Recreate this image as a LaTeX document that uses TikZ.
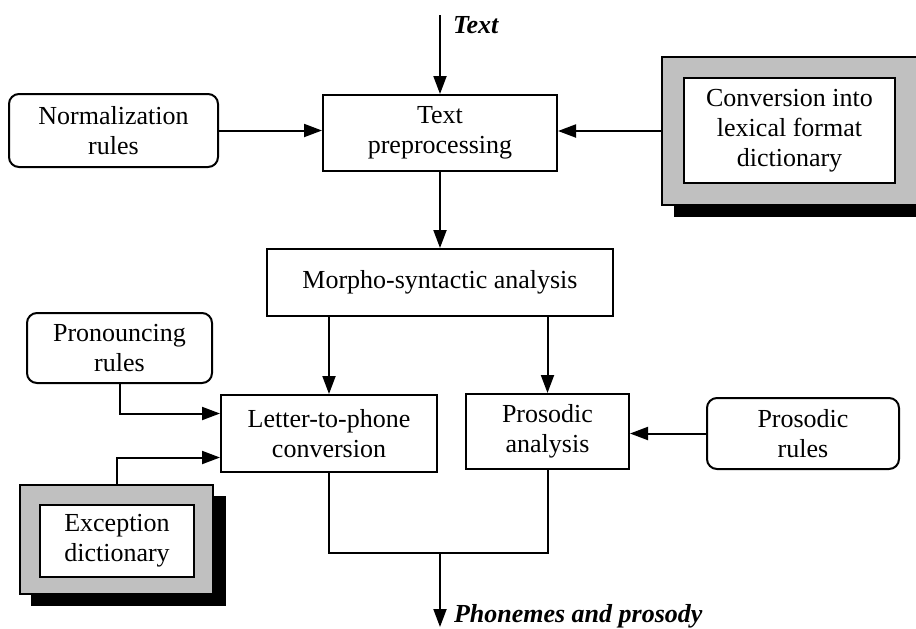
\documentclass[tikz,border=0pt]{standalone}
\usepackage{fontspec}
\setmainfont{Liberation Serif}
\usetikzlibrary{arrows.meta}
\definecolor{dictgray}{RGB}{192,192,192}
\begin{document}
\begin{tikzpicture}[x=0.5pt,y=-0.5pt,line width=1pt,>={Triangle[length=9pt,width=6.5pt]}]
  \tikzstyle{procbox}=[rectangle,draw=black,fill=white,align=center,inner sep=0pt,font=\fontsize{13}{15}\selectfont]
  \tikzstyle{rulebox}=[procbox,rounded corners=5pt]
  \tikzstyle{dictframe}=[rectangle,draw=black,fill=dictgray,inner sep=0pt]
  \tikzstyle{dictshadow}=[rectangle,fill=black,inner sep=0pt]
  \tikzstyle{flowlabel}=[anchor=west,inner sep=0pt,font=\fontsize{13}{15}\selectfont\bfseries\itshape]
  \useasboundingbox (0,0) rectangle (916,628);

  \node[procbox, minimum width=117pt, minimum height=38pt] (tp) at (440,133) {Text\\preprocessing};
  \node[rulebox, minimum width=104.5pt, minimum height=36.5pt] (norm) at (113.5,130.5) {Normalization\\rules};

  % lexical dictionary
  \node[dictshadow, minimum width=127.5pt, minimum height=74pt] (convshadow) at (801.5,143) {};
  \node[dictframe, minimum width=127.5pt, minimum height=74pt] (convgray) at (789.5,131) {};
  \node[procbox, minimum width=105.5pt, minimum height=52.5pt] (conv) at (789.5,130.5) {Conversion into\\lexical format\\dictionary};

  \node[procbox, minimum width=173pt, minimum height=33.5pt] (morpho) at (440,282.5) {Morpho-syntactic analysis};

  \node[rulebox, minimum width=92.5pt, minimum height=35pt] (pron) at (119.5,348) {Pronouncing\\rules};
  \node[procbox, minimum width=108pt, minimum height=38.5pt] (ltp) at (329,433.5) {Letter-to-phone\\conversion};
  \node[procbox, minimum width=81.5pt, minimum height=37.5pt] (pa) at (547.5,431.5) {Prosodic\\analysis};
  \node[rulebox, minimum width=96pt, minimum height=35.5pt] (pr) at (803,433.5) {Prosodic\\rules};

  % exception dictionary
  \node[dictshadow, minimum width=97.5pt, minimum height=55pt] (excshadow) at (128.5,551) {};
  \node[dictframe, minimum width=96.5pt, minimum height=54.5pt] (excgray) at (116.5,539.5) {};
  \node[procbox, minimum width=77pt, minimum height=36pt] (exc) at (117,541) {Exception\\dictionary};

  % input and output
  \coordinate (textin) at (440,15);
  \node[flowlabel] (textlbl) at (452,25) {Text};
  \coordinate (join) at (440,553);
  \coordinate (out) at (440,627);
  \node[flowlabel] (outlbl) at (453,616) {Phonemes and prosody};

  % edges
  \draw[->] (textin) -- (tp.north);
  \draw[->] (norm.east) -- (norm.east -| tp.west);
  \draw[->] (convgray.west) -- (convgray.west -| tp.east);
  \draw[->] (tp.south) -- (morpho.north);
  \draw[->] (ltp.north |- morpho.south) -- (ltp.north);
  \draw[->] (pa.north |- morpho.south) -- (pa.north);
  \draw[->] (pron.south) |- ([yshift=10pt]ltp.west);
  \draw[->] (excgray.north) |- ([yshift=-12pt]ltp.west);
  \draw[->] (pr.west) -- (pr.west -| pa.east);
  \draw (ltp.south) -- (ltp.south |- join) -- (pa.south |- join) -- (pa.south);
  \draw[->] (join) -- (out);

\end{tikzpicture}
\end{document}
